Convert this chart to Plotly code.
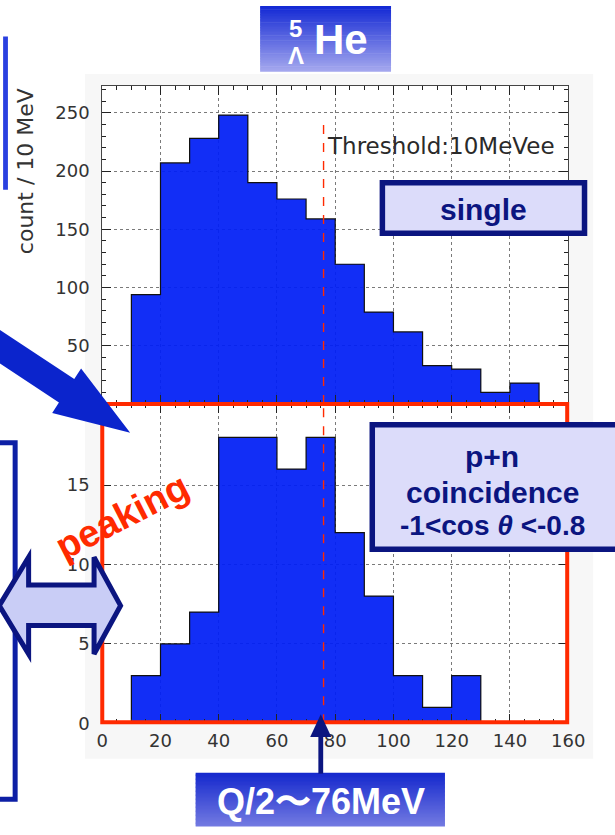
import numpy as np
import plotly.graph_objects as go

# ---------------- data ----------------
BIN_LEFT = [0, 10, 20, 30, 40, 50, 60, 70, 80, 90, 100, 110, 120, 130, 140, 150]
BIN_WIDTH = 10
SINGLE_COUNTS = [0, 94, 207, 228, 248, 190, 176, 159, 120, 79, 62, 33, 30, 10, 18, 0]
COINC_COUNTS = [0, 3, 5, 7, 18, 18, 16, 18, 12, 8, 3, 1, 3, 0, 0, 0]
X_TICKS = [0, 20, 40, 60, 80, 100, 120, 140, 160]
TOP_Y_TICKS = [50, 100, 150, 200, 250]
BOT_Y_TICKS = [0, 5, 10, 15]
Q_HALF = 76          # MeV, marker line
SINGLE_LINE_TOP = 243

W, H = 615, 835


def px(x):
    return x / W


def py(y):
    return 1 - y / H


BAR_COLOR = "rgb(0,30,245)"
NAVY = "#0b1580"
RED = "#ff2a00"
TICK_FONT = dict(family="DejaVu Sans", size=18, color="#333")

centers = np.array(BIN_LEFT) + BIN_WIDTH / 2
edges = list(BIN_LEFT) + [BIN_LEFT[-1] + BIN_WIDTH]

fig = go.Figure()

for counts, xa, ya in [(SINGLE_COUNTS, "x", "y"), (COINC_COUNTS, "x2", "y2")]:
    fig.add_trace(go.Bar(x=centers, y=counts, width=BIN_WIDTH, xaxis=xa, yaxis=ya,
                         marker=dict(color=BAR_COLOR, opacity=0.93, line=dict(width=0)),
                         showlegend=False, hoverinfo="skip"))
    fig.add_trace(go.Scatter(x=edges, y=list(counts) + [counts[-1]], xaxis=xa, yaxis=ya,
                             mode="lines", line=dict(shape="hv", color="#111", width=1.2),
                             showlegend=False, hoverinfo="skip"))

xaxis_common = dict(range=[0, 160], tickvals=X_TICKS, ticks="inside", ticklen=9, tickwidth=1,
                    tickcolor="#222", showline=True, linecolor="#444", linewidth=1, mirror="ticks",
                    showgrid=True, gridcolor="#7a7a7a", griddash="dot", gridwidth=1,
                    minor=dict(dtick=5, tick0=0, ticks="inside", ticklen=4, tickcolor="#222",
                               showgrid=False),
                    zeroline=False, tickfont=TICK_FONT)

fig.update_layout(
    width=W, height=H, margin=dict(l=0, r=0, t=0, b=0),
    paper_bgcolor="white", plot_bgcolor="rgba(0,0,0,0)",
    bargap=0, showlegend=False,
    xaxis=dict(domain=[px(100), px(584)], anchor="y", showticklabels=False, **xaxis_common),
    yaxis=dict(domain=[py(409), py(87)], anchor="x", range=[0, 273], tickvals=TOP_Y_TICKS,
               ticks="inside", ticklen=9, tickcolor="#222", showline=True, linecolor="#444",
               mirror="ticks", showgrid=True, gridcolor="#7a7a7a", griddash="dot",
               minor=dict(dtick=10, tick0=0, ticks="inside", ticklen=4, tickcolor="#222",
                          showgrid=False),
               zeroline=False, tickfont=TICK_FONT, ticklabelstandoff=8),
    xaxis2=dict(domain=[px(100), px(584)], anchor="y2", showticklabels=True,
                ticklabelstandoff=1, **xaxis_common),
    yaxis2=dict(domain=[py(732), py(409)], anchor="x2", range=[0, 20.1], tickvals=BOT_Y_TICKS,
                ticks="inside", ticklen=9, tickcolor="#222", showline=True, linecolor="#444",
                mirror="ticks", showgrid=True, gridcolor="#7a7a7a", griddash="dot",
                zeroline=False, tickfont=TICK_FONT, ticklabelstandoff=8),
)

shapes = []
# faint background of the embedded chart image
shapes.append(dict(type="rect", xref="paper", yref="paper", x0=px(82), x1=px(610), y0=py(768),
                   y1=py(75), fillcolor="#f7f7f7", line=dict(width=0), layer="below"))
shapes.append(dict(type="rect", xref="paper", yref="paper", x0=px(100), x1=px(584), y0=py(732),
                   y1=py(87), fillcolor="white", line=dict(width=0), layer="below"))

# dashed Q/2 line
shapes.append(dict(type="line", xref="x", yref="y", x0=Q_HALF, x1=Q_HALF, y0=0, y1=SINGLE_LINE_TOP,
                   line=dict(color=RED, width=1.4, dash="dash"), layer="above"))
shapes.append(dict(type="line", xref="x2", yref="y2 domain", x0=Q_HALF, x1=Q_HALF, y0=0, y1=1,
                   line=dict(color=RED, width=1.4, dash="dash"), layer="above"))

# red box around coincidence panel
shapes.append(dict(type="rect", xref="paper", yref="paper", x0=px(100), x1=px(583), y0=py(731),
                   y1=py(409), line=dict(color=RED, width=4), fillcolor="rgba(0,0,0,0)",
                   layer="above"))


def grad_box(x0, x1, y0, y1, c_top, c_bot, n=40):
    h = (y1 - y0) / n
    for i in range(n):
        t = (i + 0.5) / n
        c = tuple(int(round(a + (b - a) * t)) for a, b in zip(c_top, c_bot))
        shapes.append(dict(type="rect", xref="paper", yref="paper", x0=px(x0), x1=px(x1),
                           y0=py(y0 + (i + 1) * h + 0.6), y1=py(y0 + i * h),
                           fillcolor="rgb(%d,%d,%d)" % c, line=dict(width=0), layer="above"))


# title box
grad_box(264, 400, 6, 72, (18, 40, 212), (165, 168, 238))
# Q/2 box
grad_box(197, 456, 782, 836, (20, 40, 205), (115, 122, 225))

# arrow up to Q/2
shapes.append(dict(type="rect", xref="paper", yref="paper", x0=px(324.5), x1=px(329.5),
                   y0=py(783), y1=py(744), fillcolor=NAVY, line=dict(width=0), layer="above"))


def path(points):
    s = "M " + " L ".join("%f,%f" % (px(x), py(y)) for x, y in points) + " Z"
    return s


shapes.append(dict(type="path", xref="paper", yref="paper",
                   path=path([(316, 746), (338, 746), (327, 723)]),
                   fillcolor=NAVY, line=dict(width=0), layer="above"))

# single box
shapes.append(dict(type="rect", xref="paper", yref="paper", x0=px(391), x1=px(601), y0=py(236),
                   y1=py(185), fillcolor="#dcdcfa", line=dict(color=NAVY, width=5.5),
                   layer="above"))
# p+n box
shapes.append(dict(type="rect", xref="paper", yref="paper", x0=px(380.5), x1=px(640), y0=py(556),
                   y1=py(430), fillcolor="#dcdcfa", line=dict(color=NAVY, width=5.5),
                   layer="above"))

# big blue arrow
shapes.append(dict(type="path", xref="paper", yref="paper",
                   path=path([(-10, 331.6), (70.9, 383.6), (78, 373), (129, 438), (48, 418),
                              (55, 407.4), (-10, 365.6)]),
                   fillcolor="#0b24cc", line=dict(width=0), layer="above"))

# left thin blue bar (edge of another box)
shapes.append(dict(type="rect", xref="paper", yref="paper", x0=px(-3), x1=px(2), y0=py(192),
                   y1=py(37), fillcolor="#2a40e0", line=dict(width=0), layer="above"))
# left navy box
shapes.append(dict(type="rect", xref="paper", yref="paper", x0=px(-20), x1=px(9.5), y0=py(809),
                   y1=py(448), fillcolor="rgba(0,0,0,0)", line=dict(color="#0d1fa5", width=5),
                   layer="above"))
# double arrow
shapes.append(dict(type="path", xref="paper", yref="paper",
                   path=path([(-7, 613), (23.5, 564), (23.5, 592), (91.5, 592), (91.5, 564),
                              (119, 613), (91.5, 662), (91.5, 633), (23.5, 633), (23.5, 662)]),
                   fillcolor="#c9cdf6", line=dict(color=NAVY, width=5), layer="above"))

fig.update_layout(shapes=shapes)

ann = []


def text(x, y, s, size, color, family="Liberation Sans", angle=0, xanchor="center"):
    ann.append(dict(x=px(x), y=py(y), xref="paper", yref="paper", text=s, showarrow=False,
                    font=dict(family=family, size=size, color=color), textangle=angle,
                    xanchor=xanchor, yanchor="middle"))


text(21, 173, "count / 10 MeV", 22, "#333", family="DejaVu Sans", angle=-90)
text(452, 148, "Threshold:10MeVee", 23, "#2a2a2a", family="DejaVu Sans")
text(301, 29, "<b>5</b>", 24, "white")
text(301, 56, "<b>Λ</b>", 24, "white")
text(348, 40, "<b>He</b>", 42, "white")
text(496, 212, "<b>single</b>", 30, NAVY)
text(505, 462, "<b>p+n</b>", 30, NAVY)
text(505, 498, "<b>coincidence</b>", 30, NAVY)
text(505, 532, "<b>-1&lt;cos <i>θ</i> &lt;-0.8</b>", 28, NAVY)
text(121, 522, "<b>peaking</b>", 38, RED, angle=-27)
text(327, 811, "<b>Q/2〜76MeV</b>", 36, "white")

fig.update_layout(annotations=ann)

fig.write_html("out.html")
